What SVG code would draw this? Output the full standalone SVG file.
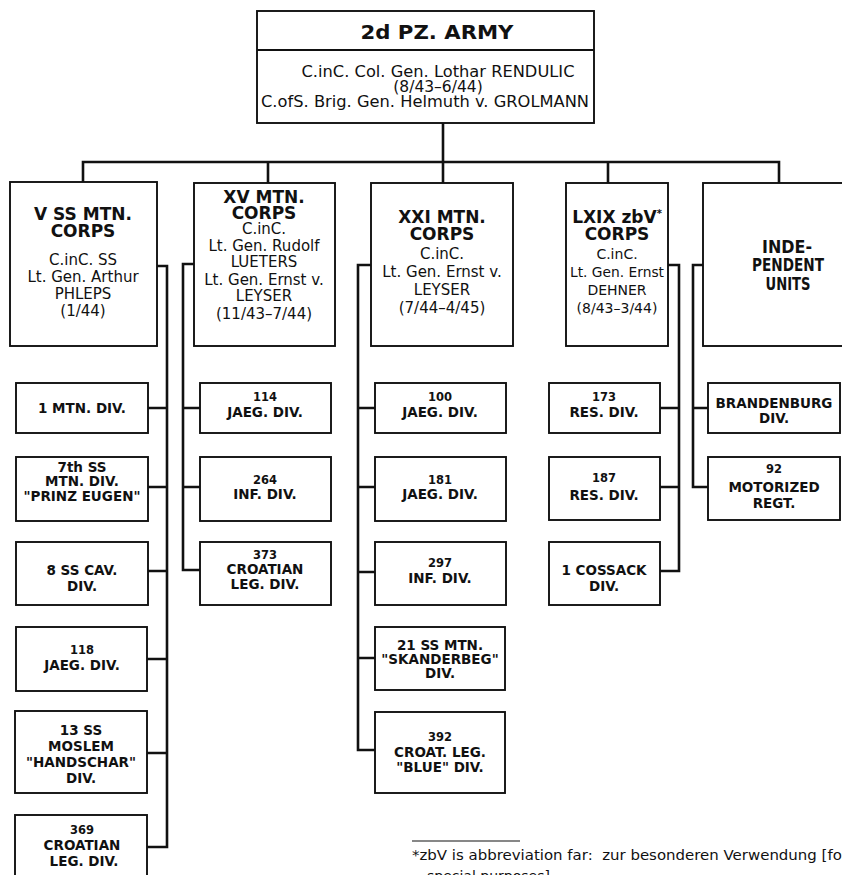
<svg xmlns="http://www.w3.org/2000/svg" width="842" height="875" viewBox="0 0 842 875">
<style>
.box{fill:#fff;stroke:#111;stroke-width:1.9}
.conn{fill:none;stroke:#111;stroke-width:2.6;stroke-linejoin:miter}
text{font-family:"DejaVu Sans","Liberation Sans",sans-serif;fill:#111;text-anchor:middle}
.h1{font-size:20px;font-weight:700}
.tb{font-size:15.5px;font-weight:400}
.ct{font-size:17px;font-weight:700}
.cb{font-size:15px;font-weight:400}
.cs{font-size:14px;font-weight:400}
.d{font-size:13.5px;font-weight:700}
.n{font-size:11.5px;font-weight:700}
.fn{font-size:14px;font-weight:400;text-anchor:start}
</style>
<rect width="842" height="875" fill="#fff"/>
<g id="connectors">
<path class="conn" d="M443,123 V162 M83,183 V162 H779 V183 M268,162 V183 M443,162 V183 M608,162 V183"/>
<path class="conn" d="M157,266 H167 V847 H147 M148,408 H167 M148,487 H167 M148,571 H167 M147,659 H167 M147,753 H167"/>
<path class="conn" d="M194,264 H183 V570 H200 M183,408 H200 M183,487 H200"/>
<path class="conn" d="M371,265 H358 V750 H375 M358,408 H375 M358,487 H375 M358,572 H375 M358,658 H375"/>
<path class="conn" d="M668,265 H679 V571 H660 M679,408 H660 M679,487 H660"/>
<path class="conn" d="M703,265 H693 V487 H708 M693,408 H708"/>
</g>
<g id="army">
<rect class="box" x="257" y="11" width="337" height="112"/>
<line x1="257" y1="50" x2="594" y2="50" stroke="#111" stroke-width="1.9"/>
<text class="h1" x="437" y="39" textLength="153" lengthAdjust="spacingAndGlyphs">2d PZ. ARMY</text>
<text class="tb" x="438" y="77" textLength="273" lengthAdjust="spacingAndGlyphs">C.inC. Col. Gen. Lothar RENDULIC</text>
<text class="tb" x="438" y="92">(8/43–6/44)</text>
<text class="tb" x="425" y="107" textLength="328" lengthAdjust="spacingAndGlyphs">C.ofS. Brig. Gen. Helmuth v. GROLMANN</text>
</g>
<g id="v-ss-corps">
<rect class="box" x="10" y="182" width="147" height="164"/>
<text class="ct" x="83" y="220">V SS MTN.</text>
<text class="ct" x="83" y="237">CORPS</text>
<text class="cb" x="83" y="265">C.inC. SS</text>
<text class="cb" x="83" y="282">Lt. Gen. Arthur</text>
<text class="cb" x="83" y="299">PHLEPS</text>
<text class="cb" x="83" y="316">(1/44)</text>
</g>
<g id="xv-corps">
<rect class="box" x="194" y="183" width="141" height="163"/>
<text class="ct" x="264" y="203">XV MTN.</text>
<text class="ct" x="264" y="219">CORPS</text>
<text class="cb" x="264" y="234">C.inC.</text>
<text class="cb" x="264" y="251">Lt. Gen. Rudolf</text>
<text class="cb" x="264" y="267">LUETERS</text>
<text class="cb" x="264" y="285">Lt. Gen. Ernst v.</text>
<text class="cb" x="264" y="301">LEYSER</text>
<text class="cb" x="264" y="319">(11/43–7/44)</text>
</g>
<g id="xxi-corps">
<rect class="box" x="371" y="183" width="142" height="163"/>
<text class="ct" x="442" y="223">XXI MTN.</text>
<text class="ct" x="442" y="240">CORPS</text>
<text class="cb" x="442" y="259">C.inC.</text>
<text class="cb" x="442" y="277">Lt. Gen. Ernst v.</text>
<text class="cb" x="442" y="295">LEYSER</text>
<text class="cb" x="442" y="313">(7/44–4/45)</text>
</g>
<g id="lxix-corps">
<rect class="box" x="566" y="183" width="102" height="163"/>
<text class="ct" x="617" y="223" font-size="16">LXIX zbV<tspan font-size="10" dy="-6">*</tspan></text>
<text class="ct" x="617" y="240">CORPS</text>
<text class="cs" x="617" y="259">C.inC.</text>
<text class="cs" x="617" y="277" textLength="94" lengthAdjust="spacingAndGlyphs">Lt. Gen. Ernst</text>
<text class="cs" x="617" y="295">DEHNER</text>
<text class="cs" x="617" y="313">(8/43–3/44)</text>
</g>
<g id="independent-units">
<rect class="box" x="703" y="183" width="150" height="163"/>
<text class="ct" x="787" y="253" textLength="50" lengthAdjust="spacingAndGlyphs">INDE-</text>
<text class="ct" x="788" y="271" textLength="72" lengthAdjust="spacingAndGlyphs">PENDENT</text>
<text class="ct" x="788" y="290" textLength="45" lengthAdjust="spacingAndGlyphs">UNITS</text>
</g>
<g id="div-1-mtn">
<rect class="box" x="16" y="383" width="132" height="50"/>
<text class="d" x="82" y="413">1 MTN. DIV.</text>
</g>
<g id="div-7-ss">
<rect class="box" x="16" y="457" width="132" height="64"/>
<text class="d" x="82" y="472" font-size="12.5">7th SS</text>
<text class="d" x="82" y="486">MTN. DIV.</text>
<text class="d" x="82" y="501">"PRINZ EUGEN"</text>
</g>
<g id="div-8-ss-cav">
<rect class="box" x="16" y="542" width="132" height="63"/>
<text class="d" x="82" y="575">8 SS CAV.</text>
<text class="d" x="82" y="591">DIV.</text>
</g>
<g id="div-118">
<rect class="box" x="16" y="627" width="131" height="64"/>
<text class="n" x="82" y="654">118</text>
<text class="d" x="82" y="670">JAEG. DIV.</text>
</g>
<g id="div-13-ss">
<rect class="box" x="15" y="711" width="132" height="82"/>
<text class="d" x="81" y="735">13 SS</text>
<text class="d" x="81" y="751">MOSLEM</text>
<text class="d" x="81" y="767">"HANDSCHAR"</text>
<text class="d" x="81" y="783">DIV.</text>
</g>
<g id="div-369">
<rect class="box" x="15" y="815" width="132" height="70"/>
<text class="n" x="82" y="834">369</text>
<text class="d" x="82" y="850">CROATIAN</text>
<text class="d" x="84" y="866">LEG. DIV.</text>
</g>
<g id="div-114">
<rect class="box" x="200" y="383" width="131" height="50"/>
<text class="n" x="265" y="401">114</text>
<text class="d" x="265" y="417">JAEG. DIV.</text>
</g>
<g id="div-264">
<rect class="box" x="200" y="457" width="131" height="64"/>
<text class="n" x="265" y="484">264</text>
<text class="d" x="265" y="499">INF. DIV.</text>
</g>
<g id="div-373">
<rect class="box" x="200" y="542" width="131" height="63"/>
<text class="n" x="265" y="559">373</text>
<text class="d" x="265" y="574">CROATIAN</text>
<text class="d" x="265" y="589">LEG. DIV.</text>
</g>
<g id="div-100">
<rect class="box" x="375" y="383" width="131" height="50"/>
<text class="n" x="440" y="401">100</text>
<text class="d" x="440" y="417">JAEG. DIV.</text>
</g>
<g id="div-181">
<rect class="box" x="375" y="457" width="131" height="64"/>
<text class="n" x="440" y="484">181</text>
<text class="d" x="440" y="499">JAEG. DIV.</text>
</g>
<g id="div-297">
<rect class="box" x="375" y="542" width="131" height="63"/>
<text class="n" x="440" y="567">297</text>
<text class="d" x="440" y="583">INF. DIV.</text>
</g>
<g id="div-21-ss">
<rect class="box" x="375" y="627" width="130" height="63"/>
<text class="d" x="440" y="650">21 SS MTN.</text>
<text class="d" x="440" y="664">"SKANDERBEG"</text>
<text class="d" x="440" y="678">DIV.</text>
</g>
<g id="div-392">
<rect class="box" x="375" y="712" width="130" height="81"/>
<text class="n" x="440" y="741">392</text>
<text class="d" x="440" y="757">CROAT. LEG.</text>
<text class="d" x="440" y="772">"BLUE" DIV.</text>
</g>
<g id="div-173">
<rect class="box" x="549" y="383" width="111" height="50"/>
<text class="n" x="604" y="401">173</text>
<text class="d" x="604" y="417">RES. DIV.</text>
</g>
<g id="div-187">
<rect class="box" x="549" y="457" width="111" height="63"/>
<text class="n" x="604" y="482">187</text>
<text class="d" x="604" y="500">RES. DIV.</text>
</g>
<g id="div-1-cossack">
<rect class="box" x="549" y="542" width="111" height="63"/>
<text class="d" x="604" y="575">1 COSSACK</text>
<text class="d" x="604" y="591">DIV.</text>
</g>
<g id="div-brandenburg">
<rect class="box" x="708" y="383" width="132" height="50"/>
<text class="d" x="774" y="408">BRANDENBURG</text>
<text class="d" x="774" y="423">DIV.</text>
</g>
<g id="regt-92">
<rect class="box" x="708" y="457" width="132" height="63"/>
<text class="n" x="774" y="473">92</text>
<text class="d" x="774" y="492">MOTORIZED</text>
<text class="d" x="774" y="508">REGT.</text>
</g>
<g id="footnote">
<line x1="412" y1="841" x2="520" y2="841" stroke="#111" stroke-width="1.2"/>
<text class="fn" x="412" y="860" xml:space="preserve" textLength="436" lengthAdjust="spacingAndGlyphs">*zbV is abbreviation far:  zur besonderen Verwendung [for</text>
<text class="fn" x="427" y="881">special purposes]</text>
</g>
</svg>
